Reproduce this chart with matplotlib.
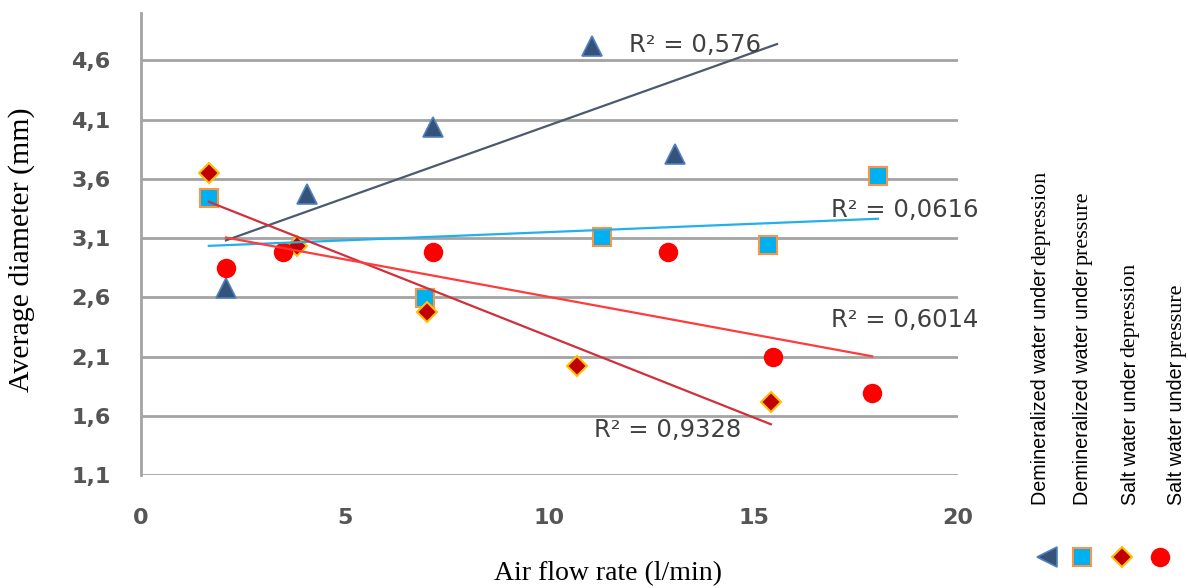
import numpy as np
import matplotlib
matplotlib.use("Agg")
import matplotlib.pyplot as plt

# ---------------- data ----------------
series_names = ["Demineralized water under depression",
                "Demineralized water under pressure",
                "Salt water under depression",
                "Salt water under pressure"]

dem_dep_x = [2.08, 4.06, 7.15, 11.04, 13.07]
dem_dep_y = [2.68, 3.47, 4.04, 4.72, 3.81]

dem_pre_x = [1.66, 6.95, 11.28, 15.35, 18.04]
dem_pre_y = [3.44, 2.59, 3.11, 3.04, 3.62]

salt_dep_x = [1.66, 3.82, 7.00, 10.67, 15.42]
salt_dep_y = [3.65, 3.03, 2.48, 2.02, 1.72]

salt_pre_x = [2.08, 3.48, 7.15, 12.90, 15.47, 17.90]
salt_pre_y = [2.85, 2.98, 2.98, 2.98, 2.10, 1.79]

# Excel-like trendline forward forecast (x units)
trend_forward = [2.5, 0.0, 0.0, 0.0]
r2_labels = ["R² = 0,576", "R² = 0,0616", "R² = 0,9328", "R² = 0,6014"]
r2_pos = [(11.95, 4.73), (16.9, 3.335), (11.1, 1.48), (16.9, 2.405)]

y_ticks = [1.1, 1.6, 2.1, 2.6, 3.1, 3.6, 4.1, 4.6]
x_ticks = [0, 5, 10, 15, 20]

# ---------------- styles ----------------
marker_styles = [
    dict(marker="^", ms=14, mfc="#34527A", mec="#4F81BD", mew=1.2),
    dict(marker="s", ms=13, mfc="#00B0F0", mec="#F79646", mew=1.5),
    dict(marker="D", ms=10, mfc="#C00000", mec="#FFC000", mew=1.5),
    dict(marker="o", ms=14, mfc="#FF0000", mec="#FF0000", mew=0),
]
trend_colors = ["#4D5A6E", "#22B0EA", "#D0303A", "#FF3B3B"]
legend_markers = [
    dict(marker="<", ms=14, mfc="#34527A", mec="#4F81BD", mew=1.2),
    dict(marker="s", ms=13, mfc="#00B0F0", mec="#F79646", mew=1.5),
    dict(marker="D", ms=10, mfc="#C00000", mec="#FFC000", mew=1.5),
    dict(marker="o", ms=14, mfc="#FF0000", mec="#FF0000", mew=0),
]

W, H = 1188, 588
fig = plt.figure(figsize=(W / 100, H / 100), dpi=100)
ax_l, ax_r, ax_b, ax_t = 141, 958, 475, 13
ax = fig.add_axes([ax_l / W, 1 - ax_b / H, (ax_r - ax_l) / W, (ax_b - ax_t) / H])

ax.set_xlim(0, 20)
ax.set_ylim(1.1, 4.6 + 0.4)

grid_c = "#A3A3A3"
for yv in y_ticks:
    ax.axhline(yv, color=grid_c, lw=2.0, zorder=1)
for side in ["top", "right", "bottom"]:
    ax.spines[side].set_visible(False)
ax.spines["left"].set_color(grid_c)
ax.spines["left"].set_linewidth(2.0)

ax.set_xticks(x_ticks)
ax.set_xticklabels([str(v) for v in x_ticks])
ax.set_yticks(y_ticks)
ax.set_yticklabels([f"{v:.1f}".replace(".", ",") for v in y_ticks])
ax.tick_params(axis="both", length=0, labelsize=16, labelcolor="#555555")
ax.tick_params(axis="x", pad=24)
ax.tick_params(axis="y", pad=22)
for lab in ax.get_xticklabels() + ax.get_yticklabels():
    lab.set_family("DejaVu Sans")
    lab.set_fontweight("bold")

xs = [dem_dep_x, dem_pre_x, salt_dep_x, salt_pre_x]
ys = [dem_dep_y, dem_pre_y, salt_dep_y, salt_pre_y]

for i in range(4):
    x = np.array(xs[i]); y = np.array(ys[i])
    ax.plot(x, y, linestyle="none", zorder=3, **marker_styles[i])
for i in range(4):
    x = np.array(xs[i]); y = np.array(ys[i])
    k, b = np.polyfit(x, y, 1)
    xx = np.array([x.min(), x.max() + trend_forward[i]])
    ax.plot(xx, k * xx + b, color=trend_colors[i], lw=1.6, zorder=4)

for lab, (px, py) in zip(r2_labels, r2_pos):
    ax.text(px, py, lab, fontsize=17.5, color="#404040", family="DejaVu Sans",
            ha="left", va="center", zorder=5)

ax.set_xlabel("Air flow rate (l/min)", family="Liberation Serif", fontsize=20,
              color="black")
ax.xaxis.set_label_coords((608 - ax_l) / (ax_r - ax_l), (ax_b - 574) / (ax_b - ax_t))
ax.xaxis.label.set_va("center")
ax.set_ylabel("Average diameter (mm)", family="Liberation Serif", fontsize=21.5,
              color="black")
ax.yaxis.set_label_coords((22 - ax_l) / (ax_r - ax_l), (ax_b - 250) / (ax_b - ax_t))
ax.yaxis.label.set_va("center")

# ---------------- custom rotated legend ----------------
leg_text_x = [1041, 1083, 1130, 1177]
leg_mark_x = [1047, 1082, 1122, 1160]
text_bottom = 505
mark_y = 557
renderer = fig.canvas.get_renderer()
for i, name in enumerate(series_names):
    sans_part, serif_part = name.rsplit(" ", 1)
    t1 = fig.text(leg_text_x[i] / W, 1 - text_bottom / H, sans_part + " ",
                  rotation=90, ha="center", va="bottom", fontsize=14.2,
                  family="Liberation Sans", color="black")
    bb = t1.get_window_extent(renderer)
    fig.text(leg_text_x[i] / W, (bb.y1 - 2) / H, serif_part, rotation=90,
             ha="center", va="bottom", fontsize=15.8, family="Liberation Serif",
             color="black")
    ax.plot([leg_mark_x[i] / W], [1 - mark_y / H], transform=fig.transFigure,
            clip_on=False, linestyle="none", **legend_markers[i])

fig.savefig("out.png", dpi=100)
